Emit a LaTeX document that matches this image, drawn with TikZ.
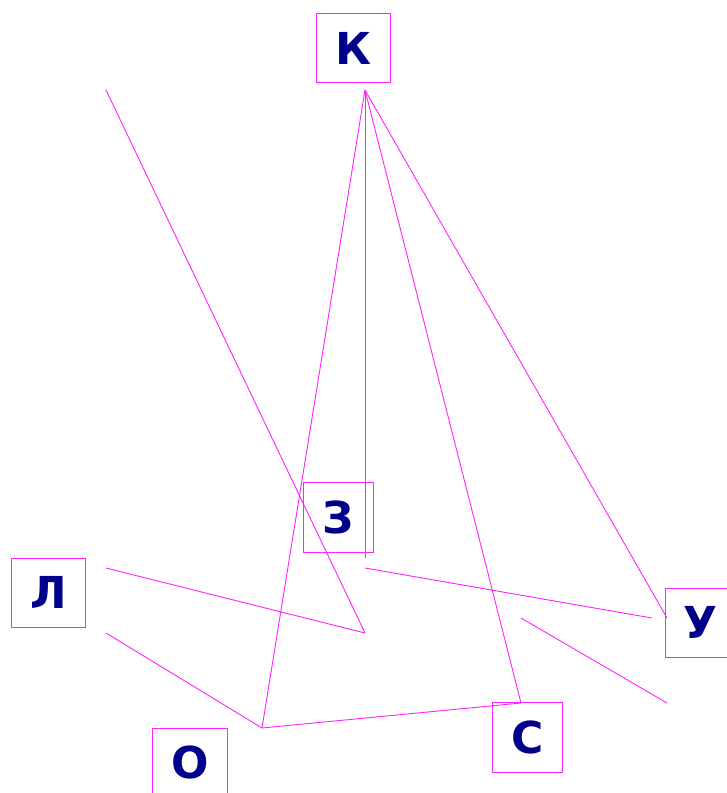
\documentclass[tikz,border=0pt]{standalone}
\usepackage{fontspec}
\newfontfamily\labfont{DejaVu Sans}
\definecolor{mag}{HTML}{FF22FF}
\definecolor{navy}{HTML}{00008B}
\begin{document}
\begin{tikzpicture}[x=1pt,y=-1pt,
  lbox/.style={draw=mag,line width=0.9pt,text=navy,font=\labfont\bfseries\fontsize{44}{44}\selectfont,inner sep=0pt,anchor=center},
  edge/.style={draw=mag,line width=0.9pt}]
\useasboundingbox (0,0) rectangle (727,793);
\node[lbox,minimum width=74pt,minimum height=69pt] (K) at (353,48.3) {К};
\node[lbox,minimum width=70pt,minimum height=70pt] (Z) at (338.2,517.2) {З};
\node[lbox,minimum width=74pt,minimum height=69pt] (L) at (48.5,592.7) {Л};
\node[lbox,minimum width=71pt,minimum height=69pt] (U) at (700.8,622.7) {У};
\node[lbox,minimum width=70pt,minimum height=70pt] (S) at (527.8,737.2) {С};
\node[lbox,minimum width=75pt,minimum height=69pt] (O) at (189.8,762.8) {О};
\coordinate (a) at (106,90);
\coordinate (k) at (365,90);
\coordinate (m) at (365,633);
\coordinate (o) at (262,728);
\coordinate (z) at (365,558);
\coordinate (c) at (521,703);
\coordinate (u) at (667,618);
\coordinate (l1) at (106,568);
\coordinate (l2) at (106,633);
\coordinate (z2) at (365,568);
\coordinate (u2) at (652,618);
\coordinate (s1) at (521,618);
\coordinate (s2) at (667,703);
\draw[edge] (a) -- (m);
\draw[edge] (k) -- (o);
\draw[edge] (k) -- (z);
\draw[edge] (k) -- (c);
\draw[edge] (k) -- (u);
\draw[edge] (l1) -- (m);
\draw[edge] (l2) -- (o);
\draw[edge] (o) -- (c);
\draw[edge] (z2) -- (u2);
\draw[edge] (s1) -- (s2);
\end{tikzpicture}
\end{document}
